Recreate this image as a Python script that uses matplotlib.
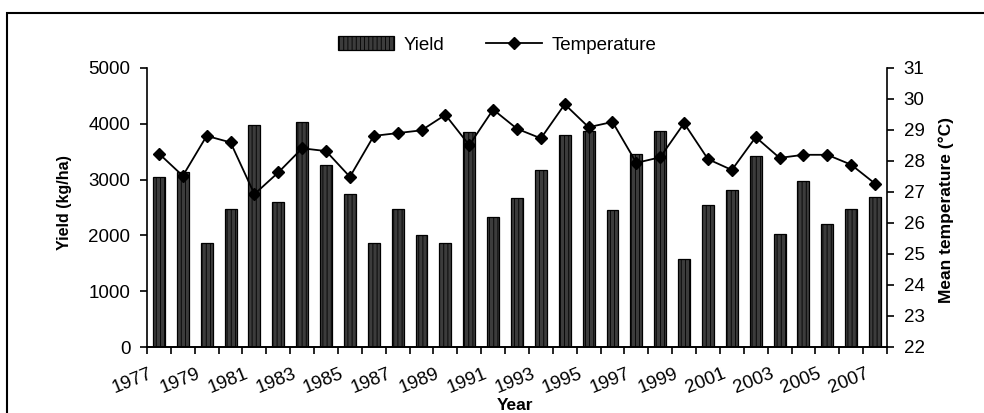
import matplotlib
matplotlib.use("Agg")
import matplotlib.pyplot as plt
import matplotlib.transforms as mtransforms
from matplotlib.patches import Rectangle
from matplotlib.lines import Line2D
from matplotlib.patches import Patch

plt.rcParams['font.family'] = ['Liberation Sans', 'DejaVu Sans']
plt.rcParams['hatch.linewidth'] = 0.6

years = list(range(1977, 2008))
yield_kg = [3050, 3140, 1860, 2470, 3970, 2600, 4040, 3255, 2750, 1860,
            2470, 2005, 1860, 3860, 2330, 2670, 3180, 3795, 3870, 2455,
            3455, 3870, 1580, 2540, 2810, 3430, 2030, 2980, 2200, 2470, 2690]
temperature = [28.24, 27.52, 28.81, 28.60, 26.93, 27.63, 28.41, 28.32, 27.49, 28.81,
               28.90, 28.99, 29.49, 28.51, 29.66, 29.04, 28.73, 29.83, 29.09, 29.26,
               27.94, 28.12, 29.22, 28.06, 27.71, 28.77, 28.10, 28.20, 28.20, 27.88, 27.27]

fig = plt.figure(figsize=(9.84, 4.13), dpi=100)
ax = fig.add_axes([147/984, 1 - 347/413, (887 - 147)/984, (347 - 68)/413])
ax2 = ax.twinx()

x = list(range(len(years)))
ax.bar(x, yield_kg, width=0.5, color='#3c3c3c', edgecolor='black',
       linewidth=0.9, hatch='||||', zorder=2)
ax2.plot(x, temperature, color='black', linewidth=1.3, marker='D',
         markersize=6, zorder=3)

ax.set_xlim(-0.5, len(years) - 0.5)
ax.set_ylim(0, 5000)
ax.set_yticks(range(0, 5001, 1000))
ax2.set_ylim(22, 31)
ax2.set_yticks(range(22, 32))

ax.spines['top'].set_visible(False)
ax.spines['right'].set_visible(False)
ax2.spines['left'].set_visible(False)
ax2.spines['top'].set_visible(False)
for a in (ax, ax2):
    for s in a.spines.values():
        s.set_linewidth(1.2)

ax.set_xticks([i - 0.5 for i in range(len(years) + 1)])
ax.set_xticklabels([])
ax.tick_params(axis='x', direction='out', length=5, width=1.2)
ax.tick_params(axis='y', direction='out', length=5, width=1.2, labelsize=13.5, pad=7)
ax2.tick_params(axis='y', direction='out', length=5, width=1.2, labelsize=13.5, pad=7)

offset = mtransforms.ScaledTranslation(-10/100, -18/100, fig.dpi_scale_trans)
for i in range(0, len(years), 2):
    ax.text(i, 0, str(years[i]), transform=ax.get_xaxis_transform() + offset,
            rotation=22, rotation_mode='anchor', ha='right', va='top', fontsize=13.5)

fig.text(515/984, 1 - 405/413, 'Year', ha='center', va='center',
         fontsize=12.5, fontweight='bold')
fig.text(65/984, 1 - 203/413, 'Yield (kg/ha)', ha='center', va='center',
         rotation=90, fontsize=11.5, fontweight='bold')
fig.text(946/984, 1 - 210/413, 'Mean temperature (°C)', ha='center', va='center',
         rotation=90, fontsize=12.5, fontweight='bold')

handles = [Patch(facecolor='#3c3c3c', edgecolor='black', hatch='||||', linewidth=0.9),
           Line2D([0], [0], color='black', linewidth=1.3, marker='D', markersize=6)]
fig.legend(handles, ['Yield', 'Temperature'], loc='center', ncol=2,
           bbox_to_anchor=(497/984, 1 - 45/413), frameon=False, fontsize=13.5,
           handlelength=3.0, columnspacing=2.2, handletextpad=0.5)

fig.patches.append(Rectangle((7/984, -0.2), 1.2, 1.2 + (1 - 13/413) - 1,
                             transform=fig.transFigure, fill=False,
                             edgecolor='black', linewidth=1.5))

fig.savefig('out.png', dpi=100)
